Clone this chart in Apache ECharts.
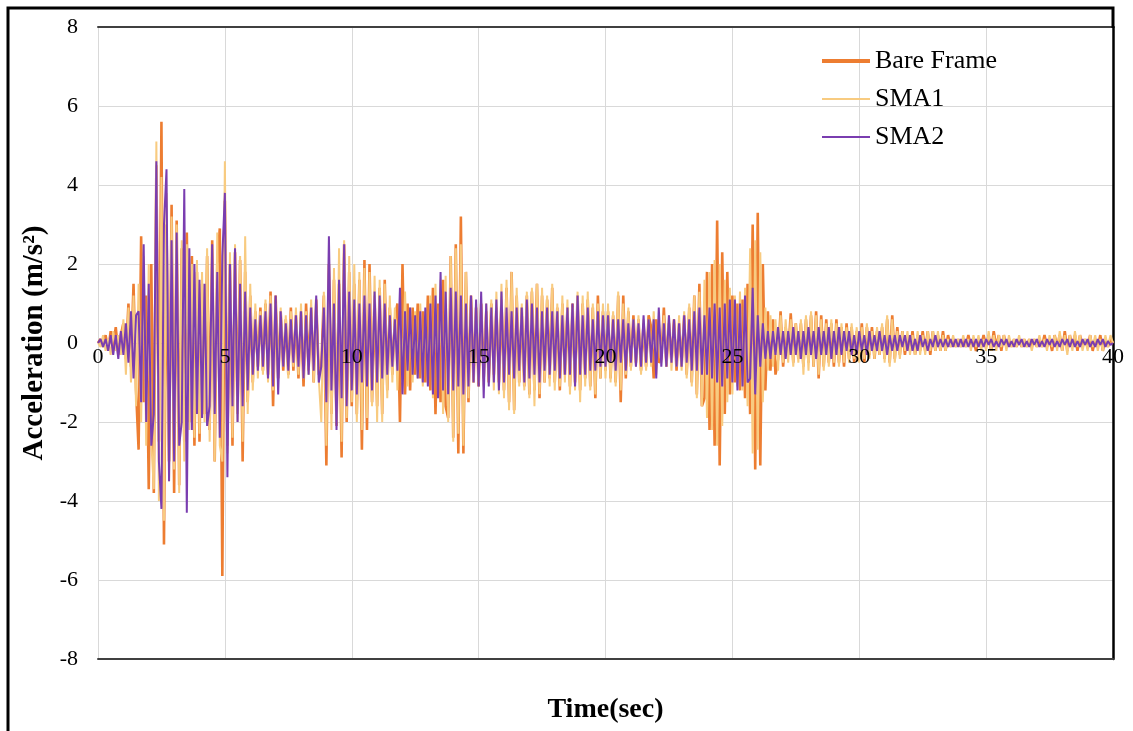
<!DOCTYPE html>
<html>
<head>
<meta charset="utf-8">
<script src="https://cdn.jsdelivr.net/npm/echarts@6/dist/echarts.min.js"></script>
<style>
html,body{margin:0;padding:0;background:#fff;}
#chart{width:1133px;height:731px;}
</style>
</head>
<body>
<div id="chart"></div>
<script>
// sampling: one value every 0.1 s, from 0 to 40 s
const TIME_STEP = 0.1;
const X_TICKS = [0, 5, 10, 15, 20, 25, 30, 35, 40];
const Y_TICKS = [-8, -6, -4, -2, 0, 2, 4, 6, 8];
const SERIES_NAMES = ['Bare Frame', 'SMA1', 'SMA2'];

const bareFrame = [
0,0.1,-0.1,0.2,-0.2,0.3,-0.1,0.4,-0.3,0.2,
0.5,-0.4,1.0,-0.6,1.5,-1.2,-2.7,2.7,-1.5,1.2,
-3.7,2.0,-3.8,4.5,-2.5,5.6,-5.1,3.0,-3.0,3.5,
-3.8,3.1,-3.6,2.4,-2.5,2.8,-2.0,2.2,-2.6,1.8,
-2.5,1.5,-1.8,2.2,-2.2,2.6,-3.0,2.0,2.9,-5.9,
3.6,-2.6,2.0,-2.6,2.3,-1.8,2.1,-3.0,1.8,-1.5,
1.2,-1.0,0.8,-0.6,0.9,-0.7,1.0,-0.8,1.3,-1.6,
1.2,-0.9,0.8,-0.7,0.6,-0.8,0.9,-0.7,0.7,-0.9,
0.8,-1.1,1.0,-0.7,0.9,-1.0,1.1,-0.8,-0.6,1.2,
-3.1,2.0,-1.8,1.6,-2.1,1.5,-2.9,2.5,-2.0,1.8,
-1.6,1.5,-1.8,1.6,-2.7,2.1,-2.2,2.0,-1.5,1.2,
-1.6,1.4,-1.8,1.6,-1.2,0.9,-0.8,0.6,1.0,-2.0,
2.0,-1.3,1.0,-1.2,0.9,-0.8,1.0,-0.9,0.8,-1.0,
1.2,-1.2,1.4,-1.8,1.0,-1.5,1.6,-1.6,-1.9,2.2,
-2.4,2.5,-2.8,3.2,-2.8,1.8,-1.5,1.2,-1.0,0.9,
-1.1,1.0,-0.9,0.8,-1.0,1.0,-0.8,0.9,-1.0,1.1,
-1.2,1.4,-1.5,1.8,-1.7,1.2,-1.0,0.9,-1.1,1.2,
-1.3,1.3,-1.2,1.5,-1.4,1.2,-1.0,1.1,-0.9,1.4,
-1.0,0.9,-1.2,1.0,-0.8,0.9,-1.1,1.0,-1.0,1.2,
-1.2,1.0,-0.9,1.1,-1.1,0.9,-1.4,1.2,-0.9,0.8,
-0.7,0.8,-0.9,0.7,-1.0,1.2,-1.5,1.2,-0.9,0.8,
-0.6,0.7,-0.5,0.6,-0.7,0.5,-0.6,0.7,0.4,-0.9,
0.6,-0.5,-0.4,0.9,-0.6,0.5,-0.5,0.6,-0.7,0.5,
-0.6,0.7,-0.8,0.9,-1.0,1.2,-1.3,1.5,-1.6,-1.4,
1.8,-2.2,2.0,-2.6,3.1,-3.1,2.3,-1.8,1.8,-1.3,
1.2,-1.0,1.0,-1.2,1.1,-1.4,1.5,-1.8,3.0,-3.2,
3.3,-3.1,2.0,-1.2,0.8,-0.7,0.6,-0.8,-0.4,0.8,
-0.6,0.4,-0.3,0.75,-0.5,0.5,-0.4,0.5,-0.6,0.6,
-0.5,0.7,-0.6,0.8,-0.9,0.7,-0.6,0.6,-0.5,0.5,
-0.6,0.6,-0.5,0.4,-0.6,0.5,-0.4,0.4,-0.5,0.3,
-0.4,0.5,-0.5,0.4,-0.3,0.4,-0.4,0.3,-0.3,0.4,
-0.4,0.6,-0.5,0.7,-0.4,0.4,-0.3,0.3,-0.3,0.2,
-0.2,0.3,-0.3,0.2,-0.2,0.3,-0.2,0.3,-0.3,0.3,
-0.2,0.2,-0.2,0.3,-0.2,0.2,-0.1,0.1,-0.1,0.1,
-0.1,0.1,-0.1,0.2,-0.1,0.1,-0.2,0.1,-0.1,0.2,
-0.1,0.2,-0.2,0.3,-0.1,0.2,-0.2,0.2,-0.1,0.1,
-0.1,0.1,-0.1,0.1,-0.1,0.1,-0.1,0.1,-0.1,0.1,
-0.1,0.1,-0.1,0.2,-0.1,0.1,-0.2,0.2,-0.1,0.2,
-0.2,0.3,-0.2,0.2,-0.1,0.2,-0.2,0.2,-0.1,0.1,
-0.1,0.2,-0.2,0.1,-0.1,0.2,-0.2,0.1,-0.1,0.1,
0
];

const sma1 = [
0,-0.1,0.2,-0.2,0.1,-0.3,0.3,-0.2,0.2,-0.3,
0.6,-0.8,0.9,-1.0,1.2,-1.6,1.5,-2.0,2.2,-2.6,
2.0,-2.5,-3.7,5.1,-4.0,4.2,-4.5,3.8,-3.5,3.2,
-3.2,3.0,-3.8,2.6,-3.0,2.5,-2.2,2.0,-2.4,2.1,
-2.3,1.8,-2.0,2.4,-2.5,2.0,-3.0,2.8,-2.6,-3.0,
4.6,-2.8,2.3,-2.4,2.5,-2.0,2.2,-2.5,2.7,-1.8,
1.5,-1.2,1.0,-0.9,0.8,-0.8,1.1,-1.0,1.2,-1.2,
1.0,-0.8,0.9,-0.6,0.7,-0.9,0.8,-0.6,0.9,-0.8,
1.0,-0.9,0.8,-0.8,1.1,-1.0,0.9,-0.9,-2.0,1.3,
-2.6,1.8,-2.2,1.9,-2.0,2.4,-2.5,2.6,-1.9,2.2,
-1.5,2.0,-2.0,1.8,-2.2,1.9,-1.9,1.8,-1.6,1.7,
-2.0,1.6,-2.0,1.5,-1.4,1.2,-1.0,0.9,-1.2,1.0,
-1.0,1.3,-1.1,0.9,-1.0,0.8,-0.9,1.0,-1.1,0.8,
-1.0,1.2,-1.4,1.5,-1.3,1.6,-1.8,1.7,-2.0,2.2,
-2.5,2.4,-2.3,2.5,-2.6,1.8,-1.4,1.1,-1.0,1.0,
-1.0,0.9,-1.1,1.0,-0.9,1.1,-1.2,1.3,-1.3,1.5,
-1.4,1.6,-1.7,1.8,-1.8,1.4,-1.1,1.0,-1.2,1.3,
-1.4,1.4,-1.6,1.5,-1.3,1.4,-1.0,1.2,-1.1,1.5,
-1.2,1.0,-1.1,1.2,-1.0,1.1,-1.3,0.9,-1.2,1.3,
-1.5,1.2,-1.1,1.3,-1.2,1.0,-1.3,1.0,-0.9,1.0,
-0.9,1.0,-1.0,0.8,-1.1,1.3,-1.2,1.0,-0.8,0.9,
-0.7,0.6,-0.6,0.7,-0.8,0.6,-0.7,0.6,-0.6,0.8,
-0.8,0.6,-0.5,0.7,-0.6,0.7,-0.7,0.5,-0.6,0.7,
-0.7,0.8,-0.9,1.0,-1.1,1.2,-1.4,1.3,-1.6,1.6,
-1.9,1.8,-2.2,2.1,-2.6,2.0,-2.1,1.6,-1.5,1.4,
-1.3,1.2,-1.1,1.3,-1.2,1.4,-1.6,2.4,-2.8,2.6,
-2.7,2.3,-1.5,0.9,-0.7,0.7,-0.6,0.6,-0.7,0.7,
-0.5,0.6,-0.5,0.6,-0.6,0.5,-0.5,0.6,-0.8,0.7,
-0.7,0.8,-0.6,0.7,-0.8,0.6,-0.7,0.5,-0.6,0.6,
-0.5,0.5,-0.6,0.5,-0.5,0.4,-0.5,0.5,-0.4,0.4,
-0.5,0.4,-0.4,0.5,-0.4,0.3,-0.4,0.4,-0.3,0.5,
-0.5,0.7,-0.6,0.6,-0.5,0.3,-0.4,0.3,-0.2,0.3,
-0.3,0.2,-0.3,0.3,-0.3,0.2,-0.3,0.3,-0.2,0.3,
-0.2,0.3,-0.2,0.2,-0.2,0.1,-0.1,0.2,-0.1,0.1,
-0.1,0.2,-0.1,0.1,-0.2,0.2,-0.1,0.2,-0.2,0.1,
-0.2,0.3,-0.2,0.2,-0.2,0.2,-0.1,0.2,-0.2,0.2,
-0.1,0.1,-0.1,0.2,-0.1,0.1,-0.1,0.1,-0.2,0.1,
-0.1,0.2,-0.1,0.1,-0.2,0.2,-0.1,0.2,-0.2,0.3,
-0.2,0.2,-0.3,0.2,-0.2,0.3,-0.1,0.2,-0.2,0.1,
-0.2,0.2,-0.1,0.2,-0.2,0.1,-0.2,0.2,-0.1,0.2,
0
];

const sma2 = [
0,0.1,-0.1,0.1,-0.2,0.2,-0.3,0.2,-0.4,0.3,
-0.3,0.5,-0.5,0.8,-0.9,0.7,0.8,-1.5,2.5,-2.0,
1.5,-2.6,-1.8,4.6,-3.0,-4.2,3.0,4.4,-3.5,2.6,
-3.0,2.8,-2.6,-2.0,3.9,-4.3,2.4,-2.2,2.0,-1.8,
1.6,-1.9,1.5,-2.1,-1.6,2.5,-1.8,1.8,-2.4,2.2,
3.8,-3.4,2.0,-1.6,2.4,-2.0,1.5,-1.6,1.3,-1.2,
0.9,-0.8,0.6,-0.7,0.7,-0.6,0.8,-0.9,1.0,-1.1,
1.2,-1.3,0.8,-0.6,0.5,-0.7,0.6,-0.5,0.7,-0.6,
0.8,-0.9,0.7,-0.8,0.9,-0.7,1.2,-1.0,-0.6,0.9,
-1.5,2.7,-1.2,1.0,-2.2,1.6,-1.4,2.5,-1.6,1.3,
-1.2,1.1,-1.3,1.0,-1.0,1.2,-1.1,1.0,-1.2,1.3,
-1.0,1.2,-0.9,1.0,-0.8,0.7,-0.6,0.6,-0.7,1.4,
-1.3,0.8,-0.7,0.9,-0.8,0.7,-0.9,0.8,-1.0,0.9,
-1.1,1.0,-1.3,1.2,-1.4,1.8,-1.2,1.3,-1.3,1.4,
-1.2,1.3,-1.1,1.2,-1.3,1.0,-1.1,1.2,-1.0,1.1,
-1.1,1.3,-1.4,1.0,-1.1,0.9,-1.0,1.1,-1.2,1.3,
-1.0,0.9,-0.8,0.8,-0.9,0.9,-0.7,0.9,-1.0,1.1,
-0.9,1.0,-0.8,0.9,-1.0,0.8,-0.7,0.9,-0.8,0.8,
-0.7,0.8,-0.9,0.7,-0.8,0.9,-0.8,1.0,-1.1,1.2,
-0.8,0.7,-0.8,0.9,-0.7,0.6,-0.7,0.8,-0.6,0.7,
-0.6,0.7,-0.5,0.6,-0.7,0.6,-0.5,0.6,-0.7,0.5,
-0.5,0.6,-0.6,0.5,-0.6,0.7,-0.5,0.6,-0.5,0.6,
-0.9,0.9,-0.6,0.5,-0.6,0.7,-0.5,0.6,-0.6,0.5,
-0.6,0.7,-0.5,0.6,-0.7,0.8,-0.7,0.9,-0.8,0.7,
-0.8,0.9,-0.9,1.0,-1.0,0.9,-1.1,1.0,-0.9,1.1,
-1.0,1.1,-1.2,1.0,-1.1,1.2,-1.0,-0.9,1.4,-1.3,
0.7,-0.6,0.5,-0.4,0.3,-0.4,0.3,-0.3,0.4,-0.3,
0.3,-0.4,0.3,-0.3,0.4,-0.3,0.3,-0.4,0.3,-0.3,
0.4,-0.3,0.3,-0.4,0.4,-0.3,0.3,-0.3,0.4,-0.4,
0.3,-0.3,0.4,-0.3,0.3,-0.2,0.3,-0.3,0.2,-0.3,
0.3,-0.2,0.2,-0.3,0.3,-0.2,0.2,-0.2,0.3,-0.2,
0.2,-0.3,0.2,-0.2,0.2,-0.2,0.2,-0.1,0.2,-0.2,
0.2,-0.2,0.1,-0.2,0.2,-0.1,0.1,-0.2,0.1,-0.1,
0.2,-0.1,0.1,-0.1,0.1,-0.1,0.1,-0.1,0.1,-0.1,
0.1,-0.1,0.1,-0.1,0.1,-0.1,0.1,-0.1,0.1,-0.1,
0.1,-0.05,0.1,-0.1,0.05,-0.1,0.1,-0.05,0.1,-0.1,
0.05,-0.1,0.1,-0.05,0.1,-0.1,0.05,-0.1,0.1,-0.05,
0.1,-0.1,0.05,-0.1,0.1,-0.05,0.1,-0.1,0.05,-0.1,
0.1,-0.05,0.1,-0.1,0.1,-0.1,0.05,-0.1,0.1,-0.05,
0.1,-0.1,0.05,-0.1,0.1,-0.05,0.1,-0.1,0.05,-0.05,
0
];

const COLORS = ['#ED7D31', '#F8CB80', '#7A3DB0'];
const WIDTHS = [2.6, 2, 2];
const LEGEND_ICONS = ['path://M0 0H48V4H0Z', 'path://M0 0H48V2H0Z', 'path://M0 0H48V2H0Z'];
const SERIF = '"Liberation Serif","Times New Roman",serif';

const GRID = {left: 98, right: 20, top: 27, bottom: 72};
const GRID_H = 731 - GRID.top - GRID.bottom;

function pairs(arr) {
  return arr.map((v, i) => [Math.round(i * TIME_STEP * 10) / 10, v]);
}
const allValues = [bareFrame, sma1, sma2];

const chart = echarts.init(document.getElementById('chart'), null, {renderer: 'canvas'});
const xBase = {
  type: 'value', min: X_TICKS[0], max: X_TICKS[X_TICKS.length - 1], interval: 5,
  axisTick: {show: false}
};
chart.setOption({
  animation: false,
  backgroundColor: '#ffffff',
  grid: Object.assign({containLabel: false, outerBoundsMode: 'none'}, GRID),
  legend: {
    data: SERIES_NAMES.map((n, k) => ({name: n, icon: LEGEND_ICONS[k]})),
    orient: 'vertical',
    left: 822, top: 48, padding: 0,
    itemWidth: 48, itemHeight: 4, itemGap: 12,
    textStyle: {fontFamily: SERIF, fontSize: 26, color: '#000', lineHeight: 26}
  },
  xAxis: [
    // tick labels sitting on the zero line, drawn above the traces
    Object.assign({}, xBase, {
      position: 'bottom', offset: -GRID_H / 2, z: 20,
      axisLine: {show: false, onZero: false},
      axisLabel: {fontFamily: SERIF, fontSize: 22, color: '#000', margin: 3},
      splitLine: {show: false}
    }),
    // bottom border with the axis title, and vertical gridlines
    Object.assign({}, xBase, {
      position: 'bottom',
      axisLine: {show: true, onZero: false, lineStyle: {color: '#404040', width: 2}},
      axisLabel: {show: false},
      splitLine: {show: true, lineStyle: {color: '#D9D9D9', width: 1}},
      name: 'Time(sec)', nameLocation: 'middle', nameGap: 37,
      nameTextStyle: {fontFamily: SERIF, fontSize: 28, fontWeight: 'bold', color: '#000'}
    }),
    // top border
    Object.assign({}, xBase, {
      position: 'top',
      axisLine: {show: true, onZero: false, lineStyle: {color: '#404040', width: 2}},
      axisLabel: {show: false}, splitLine: {show: false}
    })
  ],
  yAxis: [
    {
      type: 'value', min: Y_TICKS[0], max: Y_TICKS[Y_TICKS.length - 1], interval: 2,
      axisLine: {show: true, onZero: false, lineStyle: {color: '#D9D9D9', width: 1}},
      axisTick: {show: false},
      axisLabel: {fontFamily: SERIF, fontSize: 22, color: '#000', margin: 20},
      splitLine: {show: true, lineStyle: {color: '#D9D9D9', width: 1}},
      name: 'Acceleration (m/s²)', nameLocation: 'middle', nameGap: 48, nameRotate: 90,
      nameTextStyle: {fontFamily: SERIF, fontSize: 29, fontWeight: 'bold', color: '#000'}
    },
    {
      type: 'value', min: Y_TICKS[0], max: Y_TICKS[Y_TICKS.length - 1], position: 'right',
      axisLine: {show: true, onZero: false, lineStyle: {color: '#000', width: 2.5}},
      axisLabel: {show: false}, axisTick: {show: false}, splitLine: {show: false}
    }
  ],
  graphic: [{
    type: 'polyline',
    shape: {points: [[8, 740], [8, 8], [1113, 8], [1113, 28]]},
    style: {stroke: '#000', lineWidth: 3, fill: null},
    silent: true, z: 100
  }],
  series: SERIES_NAMES.map((name, k) => ({
    name: name,
    type: 'line',
    xAxisIndex: 0, yAxisIndex: 0,
    data: pairs(allValues[k]),
    symbol: 'none',
    smooth: false,
    z: 2 + k,
    lineStyle: {color: COLORS[k], width: WIDTHS[k]},
    itemStyle: {color: COLORS[k]}
  }))
});
</script>
</body>
</html>
